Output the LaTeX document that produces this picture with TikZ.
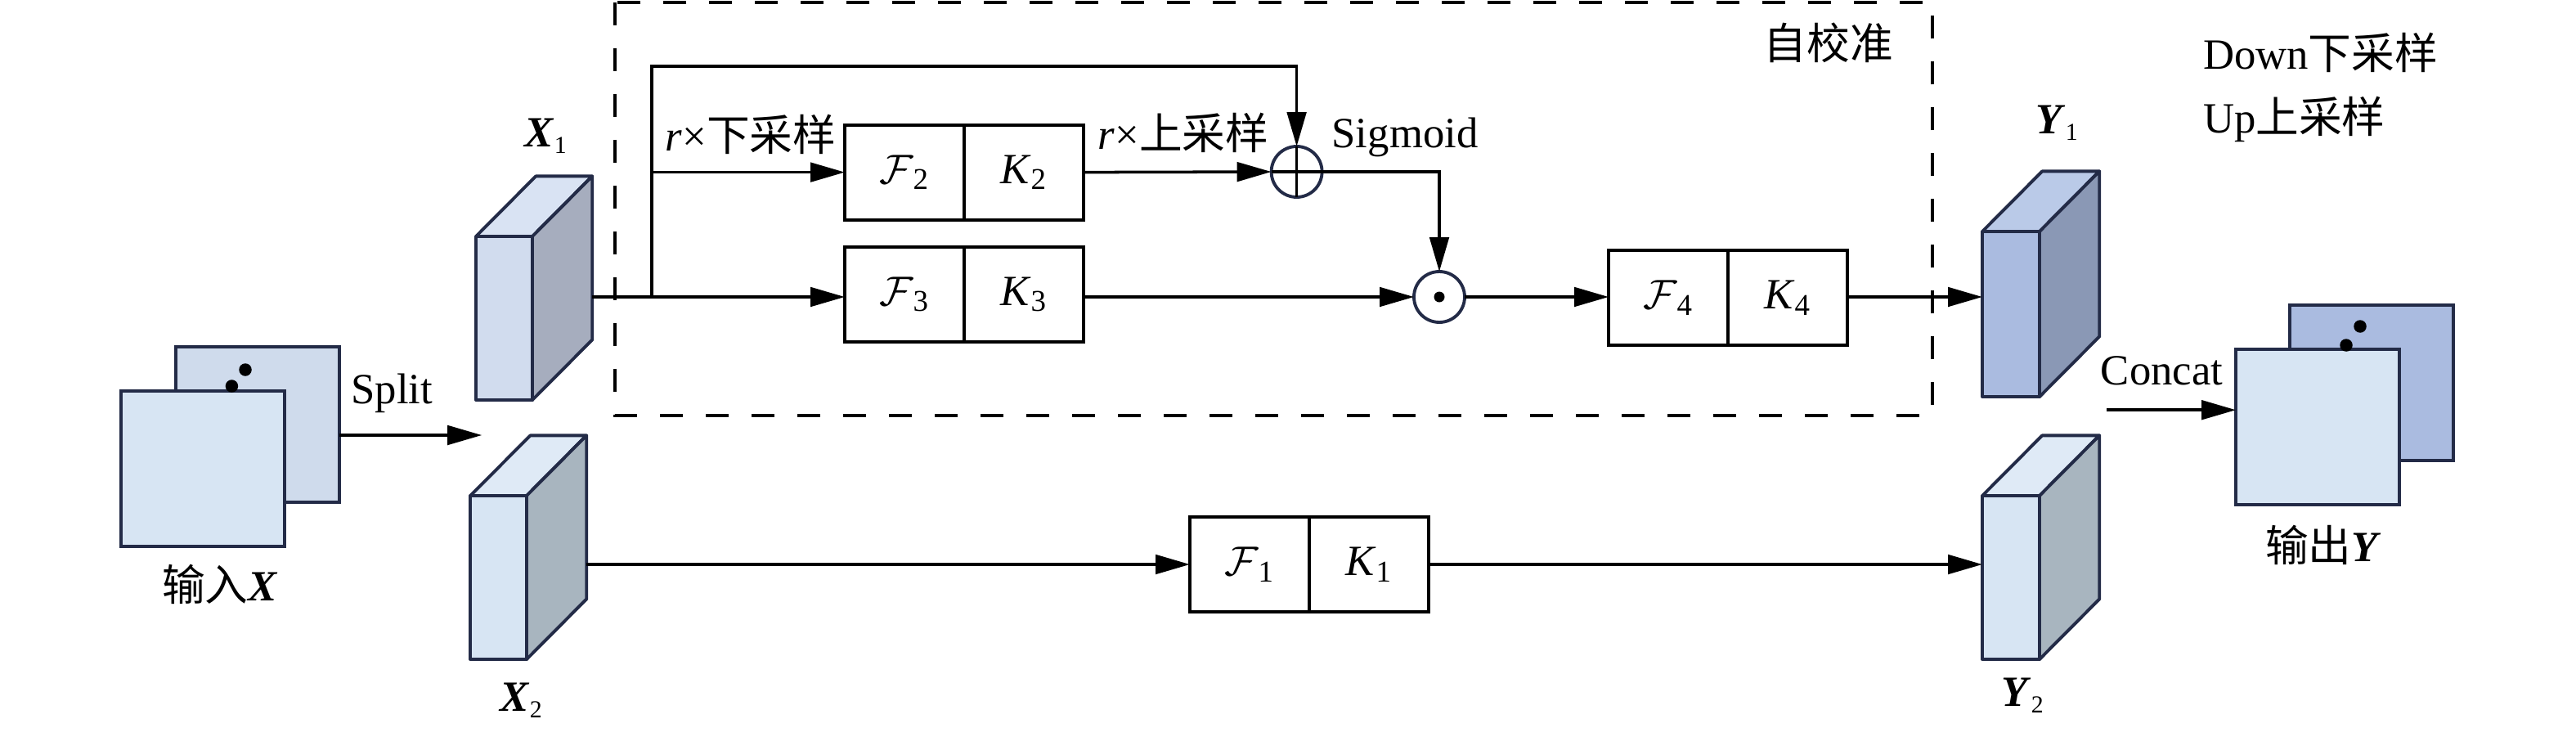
\documentclass[tikz,border=0pt]{standalone}
\usepackage{fontspec}
\setmainfont{Liberation Serif}
\newfontfamily\cjk{Noto Sans CJK SC}
\usetikzlibrary{arrows.meta}
\definecolor{navy}{HTML}{232B47}
\definecolor{xonefront}{HTML}{D1DCEE}
\definecolor{xonetop}{HTML}{D9E3F3}
\definecolor{xoneside}{HTML}{A6ADBE}
\definecolor{ltfront}{HTML}{D7E5F3}
\definecolor{lttop}{HTML}{DFEAF6}
\definecolor{ltside}{HTML}{A8B5BF}
\definecolor{dkfront}{HTML}{AABBE0}
\definecolor{dktop}{HTML}{BACAE8}
\definecolor{dkside}{HTML}{8A98B5}
\definecolor{inback}{HTML}{CFDBEC}
\newcommand{\cubo}[7]{%
  \filldraw[cubeline, fill=#6] (#1,#2) -- (#1+36.6,#2-36.8) -- (#3+36.6,#2-36.8) -- (#3,#2) -- cycle;
  \filldraw[cubeline, fill=#7] (#3,#2) -- (#3+36.6,#2-36.8) -- (#3+36.6,#4-36.8) -- (#3,#4) -- cycle;
  \filldraw[cubeline, fill=#5] (#1,#2) rectangle (#3,#4);
}
\newcommand{\smallsub}[1]{\textsubscript{\fontsize{8.5}{9}\selectfont #1}}
\begin{document}
\begin{tikzpicture}[x=0.02cm,y=-0.02cm,
  every node/.style={font=\fontsize{15}{17}\selectfont, inner sep=0pt, outer sep=0pt},
  cubeline/.style={draw=navy, line width=1.1pt, line join=round},
  sheet/.style={draw=navy, line width=1.1pt, minimum width=2cm, minimum height=1.9cm},
  opbox/.style={draw=black, line width=1.15pt, minimum width=1.46cm, minimum height=1.16cm},
  conn/.style={draw=black, line width=1pt},
  arr/.style={conn, -{Triangle[length=0.42cm,width=0.235cm]}},
  opcirc/.style={circle, draw=navy, line width=1.1pt, minimum size=0.62cm},
  dotmark/.style={circle, fill=black, minimum size=0.16cm},
  lbl/.style={}
]
\useasboundingbox (0,0) rectangle (1575,450);

% dashed self-calibration frame
\draw[black, line width=1.15pt, dash pattern=on 0.28cm off 0.28cm] (376,1.5) rectangle (1181.3,253.8);
\node[lbl] (selfcal) at (1118,26) {\cjk 自校准};

% legend
\node[lbl, anchor=west] (legdown) at (1347,32) {Down{\cjk 下采样}};
\node[lbl, anchor=west] (legup) at (1347,73) {Up{\cjk 上采样}};

% input X
\node[sheet, fill=inback] (inB) at (157.3,259.5) {};
\node[sheet, fill=ltfront] (inF) at (124,286.5) {};
\node[dotmark, minimum size=0.155cm] (ind1) at (150,226) {};
\node[dotmark, minimum size=0.155cm] (ind2) at (141.7,236) {};
\node[lbl] (inlbl) at (134.5,357) {{\cjk 输入}\textbf{\textit{X}}};

% split arrow
\coordinate (splitin) at (inB.east |- 0,266);
\coordinate (splitend) at (294.6,266);
\draw[arr] (splitin) -- (splitend);
\node[lbl] (splitlbl) at (239.6,240.5) {Split};

% feature cuboids
\cubo{291}{144.5}{325.5}{244.5}{xonefront}{xonetop}{xoneside}
\cubo{287.6}{303}{322}{403}{ltfront}{lttop}{ltside}
\cubo{1212}{141.5}{1247}{242.5}{dkfront}{dktop}{dkside}
\cubo{1212}{303}{1247}{403}{ltfront}{lttop}{ltside}
\node[lbl] (xonelbl) at (334,83) {\textbf{\textit{X}}\smallsub{1}};
\node[lbl] (xtwolbl) at (319,428) {\textbf{\textit{X}}\smallsub{2}};
\node[lbl] (yonelbl) at (1258,75) {\textbf{\textit{Y}}\smallsub{1}};
\node[lbl] (ytwolbl) at (1237,425) {\textbf{\textit{Y}}\smallsub{2}};
\coordinate (x1out) at (362.1,181.5);
\coordinate (x2out) at (358.6,345);
\coordinate (y1in) at (1212,181.5);
\coordinate (y2in) at (1212,345);

% operator boxes
\node[opbox] (F2) at (553,105.3) {\(\mathcal{F}\)\textsubscript{2}};
\node[opbox, anchor=west] (K2) at (F2.east) {\textit{K}\textsubscript{2}};
\node[opbox] (F3) at (553,180) {\(\mathcal{F}\)\textsubscript{3}};
\node[opbox, anchor=west] (K3) at (F3.east) {\textit{K}\textsubscript{3}};
\node[opbox] (F4) at (1020,182) {\(\mathcal{F}\)\textsubscript{4}};
\node[opbox, anchor=west] (K4) at (F4.east) {\textit{K}\textsubscript{4}};
\node[opbox] (F1) at (764,345) {\(\mathcal{F}\)\textsubscript{1}};
\node[opbox, anchor=west] (K1) at (F1.east) {\textit{K}\textsubscript{1}};

% operator circles
\node[opcirc] (plus) at (792.8,105) {};
\draw[conn] (plus.north) -- (plus.south);
\node[opcirc] (odot) at (880,181.5) {};
\node[dotmark, minimum size=0.13cm] (odotc) at (odot.center) {};

% branch connectors
\coordinate (br) at (398.5,181.5);
\coordinate (brtop) at (398.5,40.5);
\draw[conn] (x1out) -- (br);
\draw[arr] (br) -- (F3.west |- br);
\draw[arr] (br) |- (F2.west);
\draw[arr] (br) -- (brtop) -| (plus.north);
\draw[arr] (K2.east) -- (plus.west);
\draw[conn] (plus.west) -- (plus.east);
\draw[arr] (plus.east) -| (odot.north);
\draw[arr] (K3.east |- odot) -- (odot.west);
\draw[arr] (odot.east) -- (F4.west |- odot);
\draw[arr] (K4.east |- y1in) -- (y1in);
\draw[arr] (x2out) -- (F1.west);
\draw[arr] (K1.east) -- (y2in);

\node[lbl] (downlbl) at (459,82) {\textit{r}×{\cjk 下采样}};
\node[lbl] (uplbl) at (723.5,81) {\textit{r}×{\cjk 上采样}};
\node[lbl] (sigmoid) at (859,84) {Sigmoid};

% output Y
\node[sheet, fill=dkfront] (outB) at (1450,234) {};
\node[sheet, fill=ltfront] (outF) at (1417,261.2) {};
\node[dotmark, minimum size=0.155cm] (outd1) at (1443,199.5) {};
\node[dotmark, minimum size=0.155cm] (outd2) at (1434.5,211) {};
\node[lbl] (outlbl) at (1420.5,333) {{\cjk 输出}\textbf{\textit{Y}}};
\coordinate (concatstart) at (1288,250.6);
\draw[arr] (concatstart) -- (outF.west |- concatstart);
\node[lbl] (concatlbl) at (1321.8,226.7) {Concat};
\end{tikzpicture}
\end{document}
